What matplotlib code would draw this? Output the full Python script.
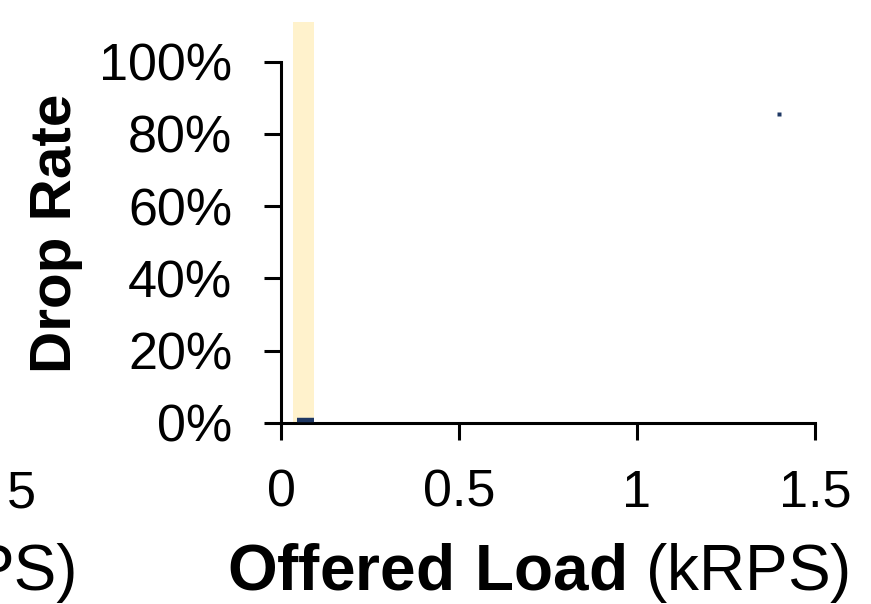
import matplotlib
matplotlib.use("Agg")
import matplotlib.pyplot as plt
from matplotlib.ticker import FuncFormatter

plt.rcParams["font.family"] = ["Liberation Sans", "DejaVu Sans"]
plt.rcParams["mathtext.fontset"] = "custom"
plt.rcParams["mathtext.rm"] = "Liberation Sans"
plt.rcParams["mathtext.bf"] = "Liberation Sans:bold"

# Offered load (kRPS) and observed drop rate
load_x = [0.045, 0.093]
drop_y = [0.008, 0.008]
outlier_x = [1.40]
outlier_y = [0.855]

# Shaded capacity region
band_lo, band_hi = 0.033, 0.092

x_ticks = [0, 0.5, 1, 1.5]
x_tick_labels = ["0", "0.5", "1", "1.5"]
y_ticks = [0, 0.2, 0.4, 0.6, 0.8, 1.0]

W, H = 871, 604
fig = plt.figure(figsize=(W / 100, H / 100), dpi=100)
ax = fig.add_axes([281 / W, 1 - 423 / H, (815 - 281) / W, (423 - 22) / H])

ax.axvspan(band_lo, band_hi, color="#FFF2CC", lw=0, zorder=0)
ax.plot(load_x, drop_y, color="#1F3864", lw=3.2, solid_capstyle="butt", zorder=3)
ax.plot(outlier_x, outlier_y, ls="none", marker="s", ms=2.6, color="#1F3864",
        mec="none", zorder=3)

ax.set_xlim(0, 1.5)
ax.set_ylim(0, 1.11)
ax.set_xticks(x_ticks)
ax.set_xticklabels(x_tick_labels)
ax.set_yticks(y_ticks)
ax.yaxis.set_major_formatter(FuncFormatter(lambda v, p: f"{v * 100:.0f}%"))

for s in ("top", "right"):
    ax.spines[s].set_visible(False)
ax.spines["left"].set_bounds(0, 1.0)
ax.spines["bottom"].set_bounds(0, 1.5)
for s in ("left", "bottom"):
    ax.spines[s].set_linewidth(2.2)

ax.tick_params(axis="both", direction="out", length=12, width=2.2, labelsize=37.5)
ax.tick_params(axis="x", pad=21)
ax.tick_params(axis="y", pad=23)

fig.text(538 / W, 1 - 590 / H, r"$\mathbf{Offered\ Load}$ (kRPS)",
         ha="center", va="baseline", fontsize=46)
fig.text(56 / W, 1 - 233 / H, "Drop Rate", rotation=90, ha="center",
         va="center", fontsize=42, fontweight="bold")

# Edge of the neighbouring panel (its axis label runs off the left border)
fig.text(36 / W, 1 - 507 / H, "5", ha="right", va="baseline", fontsize=37.5)
fig.text(78 / W, 1 - 590 / H, "PS)", ha="right", va="baseline", fontsize=46)

fig.savefig("out.png", dpi=100)
